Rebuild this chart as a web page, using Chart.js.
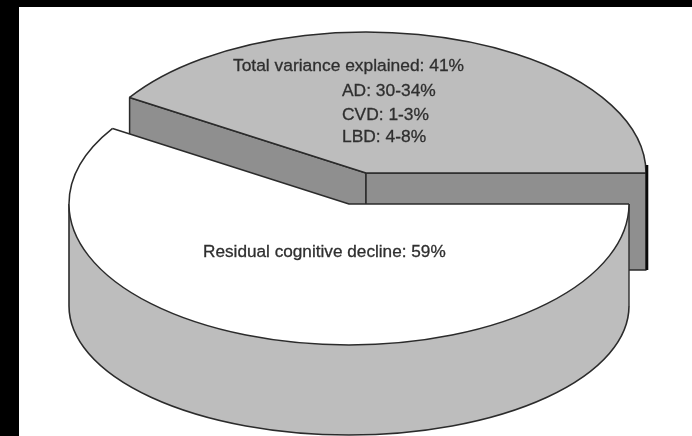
<!DOCTYPE html>
<html>
<head>
<meta charset="utf-8">
<style>
  html, body { margin: 0; padding: 0; background: #000; }
  canvas { display: block; }
</style>
<script src="https://cdn.jsdelivr.net/npm/chart.js@4/dist/chart.umd.min.js"></script>
</head>
<body>
<canvas id="pie" width="692" height="436"></canvas>
<script>
// Share of late-life cognitive decline explained by neuropathology
const categories = ['Total variance explained', 'Residual cognitive decline'];
const shares = [41, 59];
const pathologies = ['AD', 'CVD', 'LBD'];
const pathologyRanges = ['30-34%', '1-3%', '4-8%'];

// Tilted-disc look: on-screen radii of the top face and the lower rim
const RX = 280, RY_TOP = 141, RY_RIM = 129;
const RIM_DROP = 102, SLICE_DEPTH = 97;
const LIFT = [{ x: 17, y: -31 }, { x: 0, y: 0 }];
const TOP_FILL = '#bdbdbd', FACE_FILL = '#8f8f8f', PAPER = '#ffffff', INK = '#2b2b2b';

function arcGeometry(el, index) {
  const cx = el.x + LIFT[index].x;
  const cy = el.y + LIFT[index].y;
  const at = a => [cx + RX * Math.cos(a), cy + RY_TOP * Math.sin(a)];
  return { cx, cy, a: el.startAngle, b: el.endAngle, p0: at(el.startAngle), p1: at(el.endAngle) };
}

function line(ctx, pts, width, color) {
  ctx.beginPath();
  pts.forEach((p, i) => i ? ctx.lineTo(p[0], p[1]) : ctx.moveTo(p[0], p[1]));
  ctx.lineWidth = width;
  ctx.strokeStyle = color || INK;
  ctx.stroke();
}

function label(ctx, text, x, y) {
  ctx.fillText(text, x, y);
  ctx.strokeText(text, x, y);
}

const tiltedDisc = {
  id: 'tiltedDisc',
  beforeDraw(chart) {
    // White sheet inside the black border
    const { ctx, width, height } = chart;
    ctx.save();
    ctx.fillStyle = PAPER;
    ctx.fillRect(19, 7, width - 19, height - 7);
    ctx.restore();
  },
  beforeDatasetDraw(chart) {
    const { ctx } = chart;
    const arcs = chart.getDatasetMeta(0).data;
    const g = arcGeometry(arcs[0], 0), w = arcGeometry(arcs[1], 1);

    ctx.save();
    ctx.lineJoin = 'round';

    // Cut faces of the lifted slice, later overlapped by the front slice
    const faces = [[g.p0, [g.cx, g.cy]], [[g.cx, g.cy], g.p1]];
    faces.forEach(([s, e]) => {
      ctx.beginPath();
      ctx.moveTo(s[0], s[1]);
      ctx.lineTo(e[0], e[1]);
      ctx.lineTo(e[0], e[1] + SLICE_DEPTH);
      ctx.lineTo(s[0], s[1] + SLICE_DEPTH);
      ctx.closePath();
      ctx.fillStyle = FACE_FILL;
      ctx.fill();
      ctx.lineWidth = 1.5;
      ctx.strokeStyle = INK;
      ctx.stroke();
    });

    // Curved outer wall of the front slice
    ctx.beginPath();
    ctx.ellipse(w.cx, w.cy, RX, RY_TOP, 0, 0, Math.PI);
    ctx.lineTo(w.cx - RX, w.cy + RIM_DROP);
    ctx.ellipse(w.cx, w.cy + RIM_DROP, RX, RY_RIM, 0, Math.PI, 0, true);
    ctx.closePath();
    ctx.fillStyle = TOP_FILL;
    ctx.fill();
    ctx.beginPath();
    ctx.ellipse(w.cx, w.cy + RIM_DROP, RX, RY_RIM, 0, Math.PI, 0, true);
    ctx.lineWidth = 1.6;
    ctx.strokeStyle = INK;
    ctx.stroke();
    line(ctx, [[w.cx - RX, w.cy], [w.cx - RX, w.cy + RIM_DROP]], 1.6);
    line(ctx, [[w.cx + RX, w.cy], [w.cx + RX, w.cy + RIM_DROP]], 1.4);

    // The library's round slices, each moved to its place and squashed into the ellipse
    arcs.forEach((el, i) => {
      ctx.save();
      ctx.translate(el.x + LIFT[i].x, el.y + LIFT[i].y);
      ctx.scale(RX / el.outerRadius, RY_TOP / el.outerRadius);
      ctx.translate(-el.x, -el.y);
      el.draw(ctx);
      ctx.restore();
    });

    // Lifted slice outline
    ctx.beginPath();
    ctx.ellipse(g.cx, g.cy, RX, RY_TOP, 0, g.a, g.b);
    ctx.lineWidth = 1.5;
    ctx.strokeStyle = INK;
    ctx.stroke();
    line(ctx, [g.p0, [g.cx, g.cy], g.p1], 1.5);
    line(ctx, [[g.p1[0] + 1, g.p1[1] - 8], [g.p1[0] + 1, g.p1[1] + SLICE_DEPTH]], 2.6, '#0a0a0a');

    // Front slice outline
    ctx.beginPath();
    ctx.ellipse(w.cx, w.cy, RX, RY_TOP, 0, w.a, w.b);
    ctx.lineWidth = 1.5;
    ctx.strokeStyle = INK;
    ctx.stroke();
    line(ctx, [w.p1, [w.cx, w.cy], w.p0], 1.5);
    ctx.restore();
    return false;
  },
  afterDatasetsDraw(chart) {
    // Annotations
    const { ctx } = chart;
    ctx.save();
    ctx.fillStyle = '#2f2f2f';
    ctx.strokeStyle = '#2f2f2f';
    ctx.lineWidth = 0.3;
    ctx.textBaseline = 'alphabetic';
    ctx.textAlign = 'left';
    ctx.font = '17.4px "Liberation Sans", Arial, sans-serif';
    label(ctx, categories[0] + ': ' + shares[0] + '%', 233, 71);
    const ys = [96, 120, 142];
    pathologies.forEach((name, i) => {
      label(ctx, name + ': ' + pathologyRanges[i], 342, ys[i]);
    });
    ctx.font = '17.2px "Liberation Sans", Arial, sans-serif';
    label(ctx, categories[1] + ': ' + shares[1] + '%', 203, 257);
    ctx.restore();
  }
};

new Chart(document.getElementById('pie'), {
  type: 'pie',
  plugins: [tiltedDisc],
  data: {
    labels: categories,
    datasets: [{
      data: shares,
      backgroundColor: [TOP_FILL, PAPER],
      borderWidth: 0,
      clip: false
    }]
  },
  options: {
    responsive: false,
    animation: false,
    rotation: -57.6,
    layout: { padding: { left: 6, bottom: 28 } },
    plugins: { legend: { display: false }, tooltip: { enabled: false } }
  }
});
</script>
</body>
</html>
